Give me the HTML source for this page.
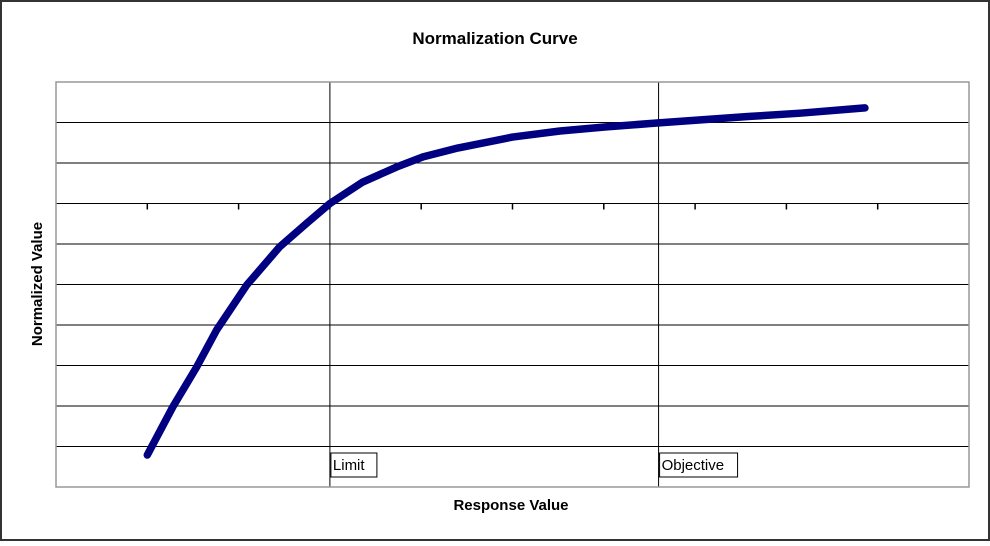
<!DOCTYPE html>
<html><head><meta charset="utf-8"><style>
html,body{margin:0;padding:0;background:#fff}
svg text{font-family:"Liberation Sans",Arial,sans-serif}
</style></head><body>
<svg id="chart" width="990" height="541" viewBox="0 0 990 541" xmlns="http://www.w3.org/2000/svg">
<rect x="1" y="1" width="988" height="539" fill="#fff" stroke="#333" stroke-width="2"/>
<text x="495" y="44" text-anchor="middle" font-size="17" font-weight="bold">Normalization Curve</text>
<g id="grid"></g>
<rect x="56" y="82" width="913" height="405" fill="none" stroke="#999" stroke-width="1.5"/>
<g id="marks"></g>
<text x="511" y="510" text-anchor="middle" font-size="15" font-weight="bold">Response Value</text>
<text transform="translate(42,284) rotate(-90)" text-anchor="middle" font-size="15" font-weight="bold">Normalized Value</text>
</svg>
<script>
const xs = [1.0,1.28,1.54,1.76,2.09,2.45,2.75,3.0,3.36,3.73,4.02,4.4,5.0,5.52,6.01,6.6,7.1,7.6,8.15,8.86];
const ys = [0.79,1.98,2.96,3.88,4.99,5.93,6.52,7.0,7.53,7.9,8.15,8.37,8.64,8.79,8.89,8.99,9.07,9.15,9.23,9.36];
const xTicks = [1,2,3,4,5,6,7,8,9];
const yGrid = [1,2,3,4,5,6,7,8,9];
const refLines = [3,6.6];
const refLabels = ["Limit","Objective"];
const X0=56,X1=969,Y0=487,Y1=82;
const sx=v=>X0+(v/10)*(X1-X0);
const sy=v=>Y0-(v/10)*(Y0-Y1);
const NS="http://www.w3.org/2000/svg";
const grid=document.getElementById('grid'), marks=document.getElementById('marks');
function mk(tag,attrs,parent){const e=document.createElementNS(NS,tag);for(const k in attrs)e.setAttribute(k,attrs[k]);parent.appendChild(e);return e;}
yGrid.forEach(v=>{
  const l=mk('line',{x1:X0,x2:X1,y1:sy(v),y2:sy(v),stroke:'#000','stroke-width':1},grid);
  
  
});
xTicks.forEach(v=>{
  const t=mk('line',{x1:sx(v),x2:sx(v),y1:sy(7),y2:sy(7)+6,stroke:'#000','stroke-width':1.5},grid);
  
  
});
refLines.forEach((v,i)=>{
  const l=mk('line',{x1:sx(v),x2:sx(v),y1:Y1,y2:Y0,stroke:'#000','stroke-width':1},grid);
  
  
  const w=refLabels[i].length*8+6;
  const r=mk('rect',{x:sx(v)+1,y:453,width:w,height:24,fill:'#fff',stroke:'#000','stroke-width':1},grid);
  
  
  const t=mk('text',{x:sx(v)+3,y:470,'font-size':15},grid);
  t.textContent=refLabels[i];
  
  
});
const pts=xs.map((x,i)=>sx(x)+','+sy(ys[i])).join(' ');
const line=mk('polyline',{points:pts,fill:'none',stroke:'#000080','stroke-width':7.5,'stroke-linecap':'round','stroke-linejoin':'round'},marks);


</script>
</body></html>
